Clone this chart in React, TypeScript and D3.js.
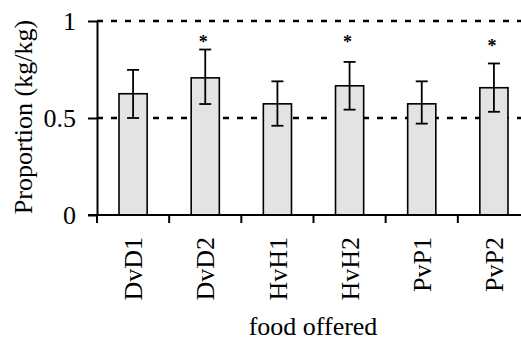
import * as d3 from "d3";
import { useEffect, useRef } from "react";

// food offered pairs
const categories = ["DvD1", "DvD2", "HvH1", "HvH2", "PvP1", "PvP2"];
// mean proportion (kg/kg)
const means = [0.625, 0.707, 0.573, 0.666, 0.573, 0.656];
// error bar ends
const errHigh = [0.748, 0.853, 0.689, 0.789, 0.689, 0.781];
const errLow = [0.5, 0.572, 0.46, 0.543, 0.471, 0.532];
// position of significance star (null = none)
const stars = [null, 0.914, null, 0.914, null, 0.893];
const yTicks = [0, 0.5, 1];
const refLines = [0.5, 1];

const FONT = "'Liberation Serif', 'Times New Roman', serif";

function App() {
    const ref = useRef<SVGSVGElement>(null);

    useEffect(() => {
        const width = 521,
            height = 340;

        const svg = d3.select(ref.current);
        svg.selectAll("*").remove();

        const y = d3.scaleLinear().domain([0, 1]).range([215, 21]);
        const x = d3.scaleBand().domain(categories).range([97, 530]).padding(0);
        const barW = x.bandwidth() * 0.39;

        const rows = categories.map((c, i) => ({
            c,
            mean: means[i],
            hi: errHigh[i],
            lo: errLow[i],
            star: stars[i],
        }));

        // dashed reference lines
        svg
            .selectAll("line.ref")
            .data(refLines)
            .enter()
            .append("line")
            .attr("class", "ref")
            .attr("x1", 97)
            .attr("x2", width)
            .attr("y1", (d) => y(d))
            .attr("y2", (d) => y(d))
            .attr("stroke", "#000")
            .attr("stroke-width", 2.5)
            .attr("stroke-dasharray", "6,8");

        // bars
        svg
            .selectAll("rect.bar")
            .data(rows)
            .enter()
            .append("rect")
            .attr("class", "bar")
            .attr("x", (d) => x(d.c)! + x.bandwidth() / 2 - barW / 2)
            .attr("y", (d) => y(d.mean))
            .attr("width", barW)
            .attr("height", (d) => y(0) - y(d.mean))
            .attr("fill", "#e3e3e3")
            .attr("stroke", "#000")
            .attr("stroke-width", 1.6);

        // error bars
        const eb = svg
            .selectAll("g.err")
            .data(rows)
            .enter()
            .append("g")
            .attr("class", "err")
            .attr("transform", (d) => "translate(" + (x(d.c)! + x.bandwidth() / 2) + ",0)")
            .attr("stroke", "#000")
            .attr("stroke-width", 1.8);
        eb.append("line")
            .attr("y1", (d) => y(d.lo))
            .attr("y2", (d) => y(d.hi));
        eb.append("line")
            .attr("x1", -6)
            .attr("x2", 6)
            .attr("y1", (d) => y(d.hi))
            .attr("y2", (d) => y(d.hi));
        eb.append("line")
            .attr("x1", -6)
            .attr("x2", 6)
            .attr("y1", (d) => y(d.lo))
            .attr("y2", (d) => y(d.lo));

        // significance stars
        svg
            .selectAll("text.star")
            .data(rows.filter((d) => d.star !== null))
            .enter()
            .append("text")
            .attr("class", "star")
            .attr("x", (d) => x(d.c)! + x.bandwidth() / 2 - 2)
            .attr("y", (d) => y(d.star as number) + 10)
            .attr("text-anchor", "middle")
            .style("font-family", FONT)
            .style("font-size", "18px")
            .style("font-weight", "bold")
            .text("*");

        // y axis
        const yAxis = svg
            .append("g")
            .attr("transform", "translate(97,0)")
            .call(
                d3
                    .axisLeft(y)
                    .tickValues(yTicks)
                    .tickSize(9)
                    .tickSizeOuter(0)
                    .tickPadding(12)
                    .tickFormat((d) => d3.format("")(d as number))
            );
        yAxis.selectAll("path, line").attr("stroke-width", 2);
        yAxis.selectAll("text").style("font-family", FONT).style("font-size", "26px").attr("fill", "#000");

        // x axis
        const xAxis = svg.append("g");
        xAxis
            .append("line")
            .attr("x1", 88)
            .attr("x2", width)
            .attr("y1", y(0))
            .attr("y2", y(0))
            .attr("stroke", "#000")
            .attr("stroke-width", 2);
        xAxis
            .selectAll("line.tick")
            .data(categories)
            .enter()
            .append("line")
            .attr("class", "tick")
            .attr("x1", (d) => x(d)!)
            .attr("x2", (d) => x(d)!)
            .attr("y1", y(0))
            .attr("y2", y(0) + 8)
            .attr("stroke", "#000")
            .attr("stroke-width", 2);
        xAxis
            .selectAll("text")
            .data(categories)
            .enter()
            .append("text")
            .attr("transform", (d) => "translate(" + (x(d)! + x.bandwidth() / 2) + ",237) rotate(-90)")
            .attr("dy", "0.35em")
            .attr("text-anchor", "end")
            .style("font-family", FONT)
            .style("font-size", "26px")
            .text((d) => d);

        // axis titles
        svg
            .append("text")
            .attr("x", 313)
            .attr("y", 335)
            .attr("text-anchor", "middle")
            .style("font-family", FONT)
            .style("font-size", "26px")
            .text("food offered");

        svg
            .append("text")
            .attr("transform", "translate(31.5,117) rotate(-90)")
            .attr("text-anchor", "middle")
            .style("font-family", FONT)
            .style("font-size", "26px")
            .text("Proportion (kg/kg)");

        svg.attr("width", width).attr("height", height);
    }, []);

    return (
        <svg
            ref={ref}
            style={{ position: "absolute", left: 0, top: 0, background: "#fff", display: "block" }}
        ></svg>
    );
}

export default App;
